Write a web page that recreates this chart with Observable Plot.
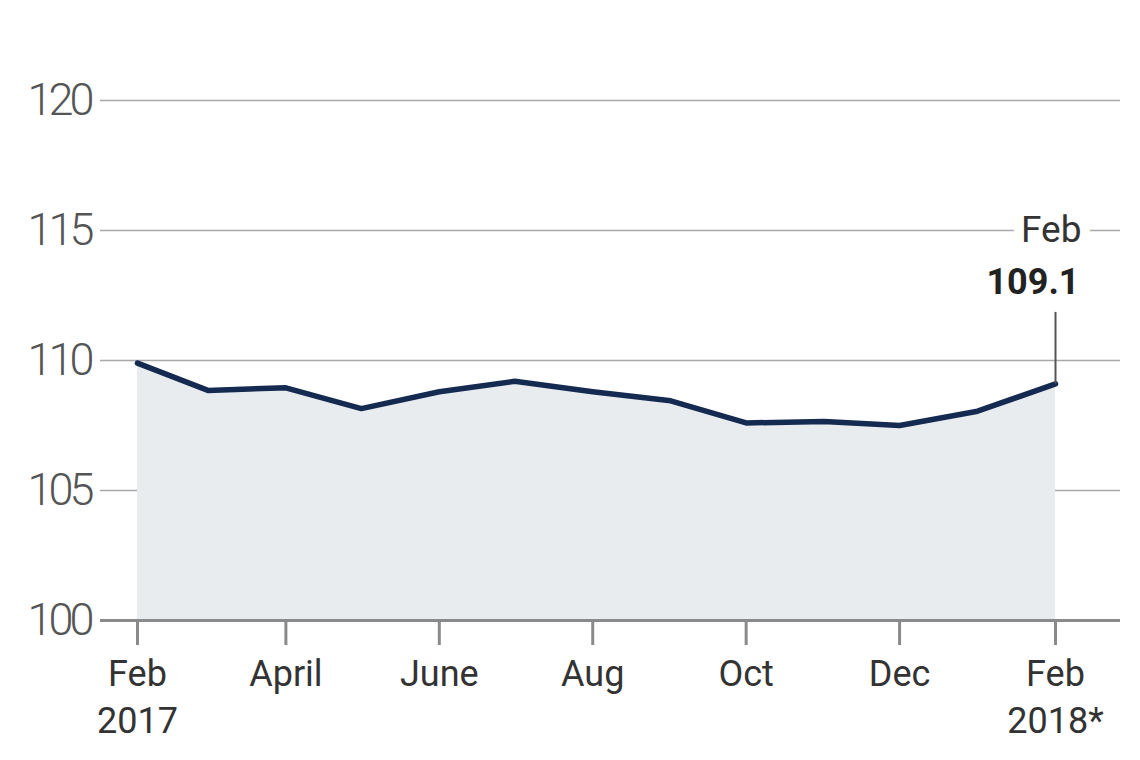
<!DOCTYPE html>
<html><head><meta charset="utf-8">
<script src="https://cdn.jsdelivr.net/npm/d3@7"></script>
<script src="https://cdn.jsdelivr.net/npm/@observablehq/plot@0.6"></script>
<style>
body{margin:0;background:#fff;}
#chart{width:1140px;height:760px;}
.yax text{letter-spacing:-4px;}
</style>
</head><body><div id="chart"></div>
<script>
// ---- data ----
const months = ["2017-02-01","2017-03-01","2017-04-01","2017-05-01","2017-06-01","2017-07-01","2017-08-01","2017-09-01","2017-10-01","2017-11-01","2017-12-01","2018-01-01","2018-02-01"];
const values = [109.9,108.85,108.95,108.15,108.8,109.2,108.8,108.45,107.6,107.65,107.5,108.05,109.1];
const yTicks = [100,105,110,115,120];
const xTickDates = ["2017-02-01","2017-04-01","2017-06-01","2017-08-01","2017-10-01","2017-12-01","2018-02-01"];
const xTickLabels = ["Feb\n2017","April","June","Aug","Oct","Dec","Feb\n2018*"];
const annotMonth = "Feb";
const annotValue = "109.1";

const data = months.map((m,i)=>({date:new Date(m+"T00:00:00Z"), value:values[i]}));
const last = data[data.length-1];
const tickDates = xTickDates.map(d=>new Date(d+"T00:00:00Z"));
const labelFor = new Map(tickDates.map((d,i)=>[+d, xTickLabels[i]]));
const DAY = 864e5;
const xDomain = [new Date(+data[0].date - 14.71*DAY), new Date(+last.date + 25.84*DAY)];

const font = "Roboto, 'Liberation Sans', sans-serif";

const chart = Plot.plot({
  width:1140, height:760,
  marginTop:100, marginBottom:140, marginLeft:100, marginRight:20,
  style:{fontFamily:font, background:"#fff", overflow:"visible"},
  x:{type:"utc", domain:xDomain, label:null},
  y:{domain:[100,120], label:null},
  marks:[
    Plot.gridY(yTicks.filter(t=>t>100), {stroke:"#a9a9a9", strokeOpacity:1, strokeWidth:1.5}),
    Plot.areaY(data, {x:"date", y1:100, y2:"value", fill:"#e8ecef"}),
    Plot.ruleY([100], {stroke:"#8a8a8a", strokeWidth:3}),
    Plot.line(data, {x:"date", y:"value", stroke:"#152a50", strokeWidth:5.5, strokeLinejoin:"round", strokeLinecap:"round"}),
    Plot.ruleX([last], {x:"date", y1:"value", y2:()=>111.85, stroke:"#555", strokeWidth:2}),
    Plot.text([last], {x:"date", y:()=>115, text:()=>annotMonth, textAnchor:"end", dx:26, fontSize:37, fill:"#333", stroke:"white", strokeWidth:20, paintOrder:"stroke", fontFamily:font}),
    Plot.text([last], {x:"date", y:()=>113, text:()=>annotValue, textAnchor:"end", dx:24, fontSize:36, fontWeight:"bold", fill:"#222", fontFamily:font}),
    Plot.axisY({ticks:yTicks, tickSize:0, tickPadding:10, fontSize:45, fontWeight:300, fill:"#555", className:"yax", fontFamily:font, tickFormat:d=>String(d), label:null}),
    Plot.axisX({ticks:tickDates, tickSize:25, tickPadding:7, stroke:"#8a8a8a", strokeWidth:3, fontSize:36, fill:"#333", lineHeight:1.3, fontFamily:font, tickFormat:d=>labelFor.get(+d), label:null})
  ]
});
document.getElementById("chart").appendChild(chart);
</script>
</body></html>
